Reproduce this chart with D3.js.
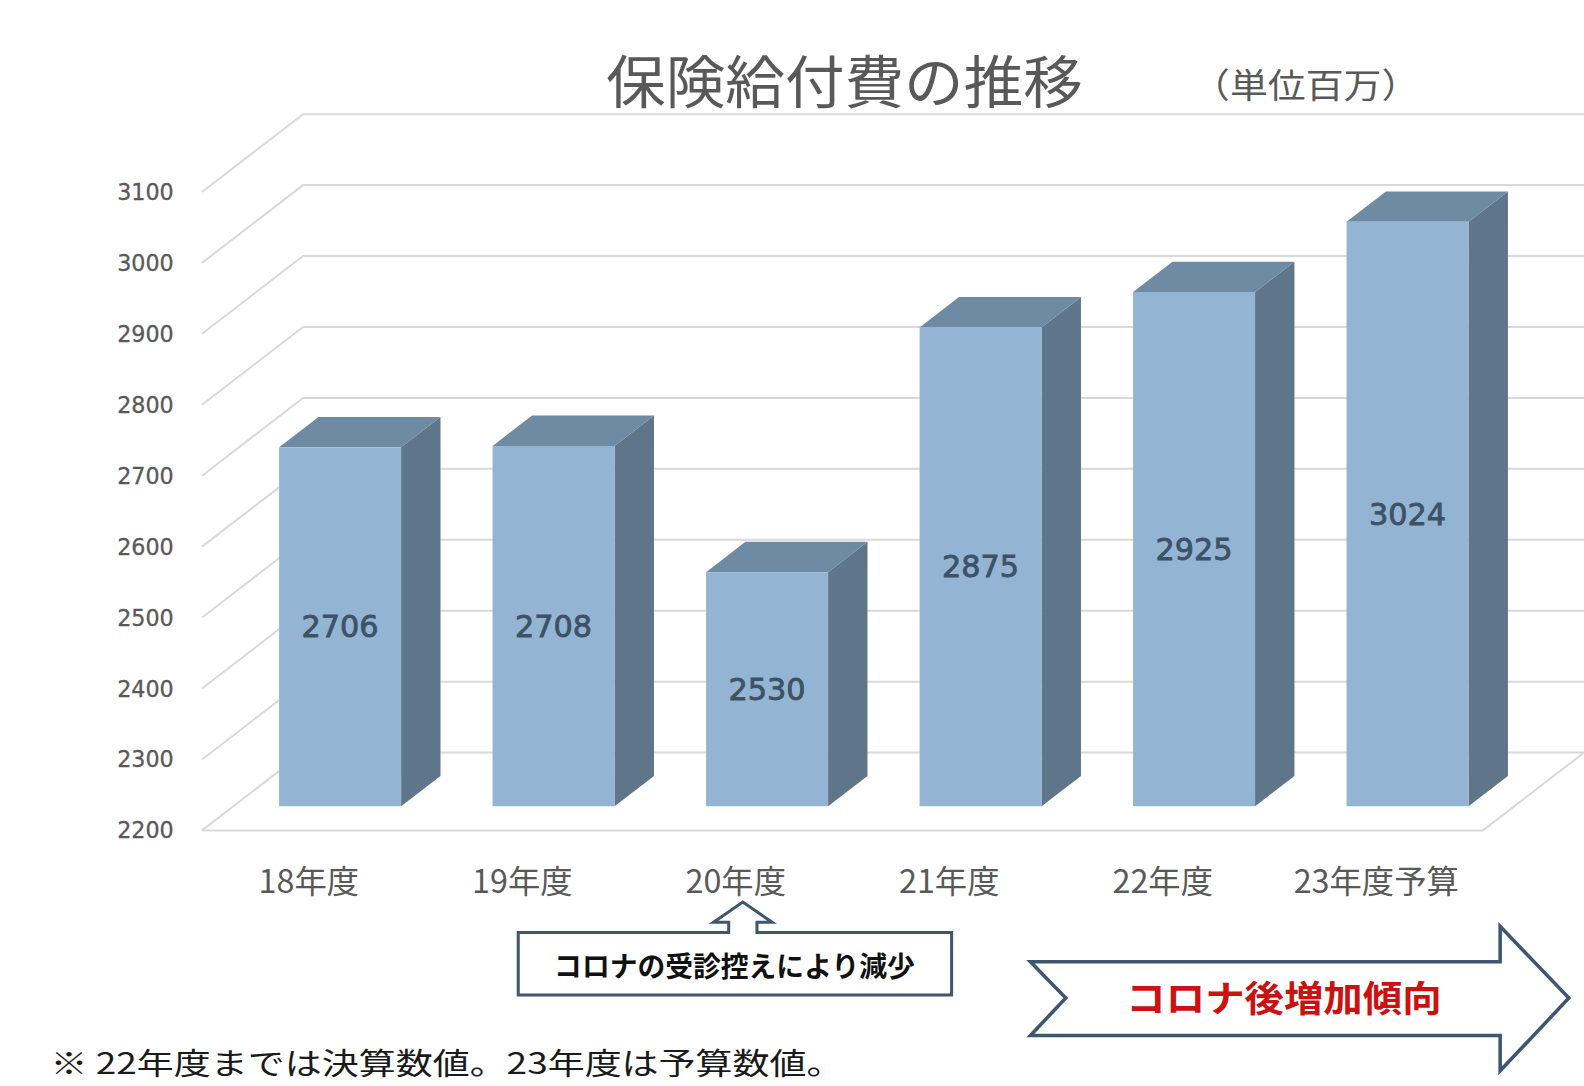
<!DOCTYPE html>
<html lang="ja">
<head>
<meta charset="UTF-8" />
<title>保険給付費の推移</title>
<script src="https://cdnjs.cloudflare.com/ajax/libs/d3/7.8.4/d3.min.js"></script>
<style>
  body { margin: 0; background: #fff; overflow: hidden; }
  svg { display: block; }
  text { font-family: "Noto Sans CJK JP", "Noto Sans", sans-serif; }
  .num { font-family: "DejaVu Sans", sans-serif; }
</style>
</head>
<body>
<svg width="1584" height="1086"></svg>
<script>
const categories = ["18年度", "19年度", "20年度", "21年度", "22年度", "23年度予算"];
const values = [2706, 2708, 2530, 2875, 2925, 3024];
const yTicks = [2200, 2300, 2400, 2500, 2600, 2700, 2800, 2900, 3000, 3100];

// layout drawn in a 1568-wide space, scaled to the page
const k = 1584 / 1568;
const svg = d3.select("svg");
const g = svg.append("g").attr("transform", `scale(${k})`);

const x = d3.scaleBand().domain(categories).range([200, 1468])
  .paddingInner(0.75 / 1.75).paddingOuter(0.375 / 1.75);
const y = d3.scaleLinear().domain([2200, 3100]).range([822, 190]);

// depth projection
const DX = 100, DY = -77;
const P = (px, py, z) => [px + DX * z, py + DY * z];
const z0 = 0.31, z1 = 0.70;

const grid = "#d9d9d9";
const poly = pts => pts.map(p => p.join(",")).join(" ");

// back wall + side wall gridlines
yTicks.forEach(t => {
  g.append("polyline")
    .attr("points", poly([P(200, y(t), 0), P(200, y(t), 1), P(1468, y(t), 1)]))
    .attr("fill", "none").attr("stroke", grid).attr("stroke-width", 2);
});
// floor front edge
g.append("polyline")
  .attr("points", poly([P(200, y(2200), 0), P(1468, y(2200), 0), P(1468, y(2200), 1)]))
  .attr("fill", "none").attr("stroke", grid).attr("stroke-width", 2);

// y labels
g.selectAll(".ylab").data(yTicks).enter().append("text")
  .attr("class", "num")
  .attr("x", 172).attr("y", d => y(d))
  .attr("text-anchor", "end").attr("dominant-baseline", "central")
  .attr("font-size", 22).attr("fill", "#595959")
  .attr("stroke", "#595959").attr("stroke-width", 0.3)
  .text(d => d);

// bars
const bars = g.selectAll(".bar").data(values).enter().append("g");
bars.each(function(v, i) {
  const el = d3.select(this);
  const x0 = x(categories[i]), x1 = x0 + x.bandwidth();
  const yt = y(v), yb = y(2200);
  // side face
  el.append("polygon").attr("fill", "#5f7589")
    .attr("points", poly([P(x1, yt, z0), P(x1, yt, z1), P(x1, yb, z1), P(x1, yb, z0)]));
  // top face
  el.append("polygon").attr("fill", "#6f8aa3")
    .attr("points", poly([P(x0, yt, z0), P(x0, yt, z1), P(x1, yt, z1), P(x1, yt, z0)]));
  // front face
  el.append("polygon").attr("fill", "#93b4d3")
    .attr("points", poly([P(x0, yt, z0), P(x1, yt, z0), P(x1, yb, z0), P(x0, yb, z0)]));
  const c = P((x0 + x1) / 2, (yt + yb) / 2, z0);
  el.append("text").attr("class", "num")
    .attr("x", c[0]).attr("y", c[1])
    .attr("text-anchor", "middle").attr("dominant-baseline", "central")
    .attr("font-size", 30).attr("fill", "#3d5266")
    .attr("stroke", "#3d5266").attr("stroke-width", 0.8)
    .text(v);
});

// category labels
g.selectAll(".xlab").data(categories).enter().append("text")
  .attr("x", d => x(d) + x.bandwidth() / 2).attr("y", 870)
  .attr("text-anchor", "middle").attr("dominant-baseline", "central")
  .attr("font-size", 32).attr("fill", "#595959")
  .text(d => d);

// title
g.append("text").attr("x", 600).attr("y", 77)
  .attr("dominant-baseline", "central")
  .attr("font-size", 56).attr("fill", "#595959")
  .attr("textLength", 472).attr("lengthAdjust", "spacingAndGlyphs")
  .text("保険給付費の推移");
g.append("text").attr("x", 1180).attr("y", 82)
  .attr("dominant-baseline", "central")
  .attr("font-size", 34).attr("fill", "#595959")
  .attr("textLength", 225).attr("lengthAdjust", "spacingAndGlyphs")
  .text("（単位百万）");

// callout under 20年度
const cx = x("20年度") + x.bandwidth() / 2 + 7;
g.append("path")
  .attr("d", `M513,923 H${cx - 14} V913 H${cx - 29} L${cx},893 L${cx + 29},913 H${cx + 14} V923 H942 V985 H513 Z`)
  .attr("fill", "#fff").attr("stroke", "#3e5670").attr("stroke-width", 3);
g.append("text").attr("x", 727).attr("y", 955)
  .attr("text-anchor", "middle").attr("dominant-baseline", "central")
  .attr("font-size", 28).attr("font-weight", "bold").attr("fill", "#111")
  .attr("textLength", 357).attr("lengthAdjust", "spacingAndGlyphs")
  .text("コロナの受診控えにより減少");

// trend arrow
g.append("path")
  .attr("d", "M1020,952 H1485 V917 L1553,988 L1485,1060 V1025 H1020 L1055,988 Z")
  .attr("fill", "#fff").attr("stroke", "#3e5670").attr("stroke-width", 3.5)
  .attr("stroke-linejoin", "miter");
g.append("text").attr("x", 1271).attr("y", 986)
  .attr("text-anchor", "middle").attr("dominant-baseline", "central")
  .attr("font-size", 36).attr("font-weight", "bold").attr("fill", "#cc1111")
  .attr("textLength", 312).attr("lengthAdjust", "spacingAndGlyphs")
  .text("コロナ後増加傾向");

// footnote
g.append("text").attr("x", 50).attr("y", 1050)
  .attr("dominant-baseline", "central")
  .attr("font-size", 29).attr("fill", "#1a1a1a")
  .attr("textLength", 785).attr("lengthAdjust", "spacingAndGlyphs")
  .text("※ 22年度までは決算数値。23年度は予算数値。");
</script>
</body>
</html>
